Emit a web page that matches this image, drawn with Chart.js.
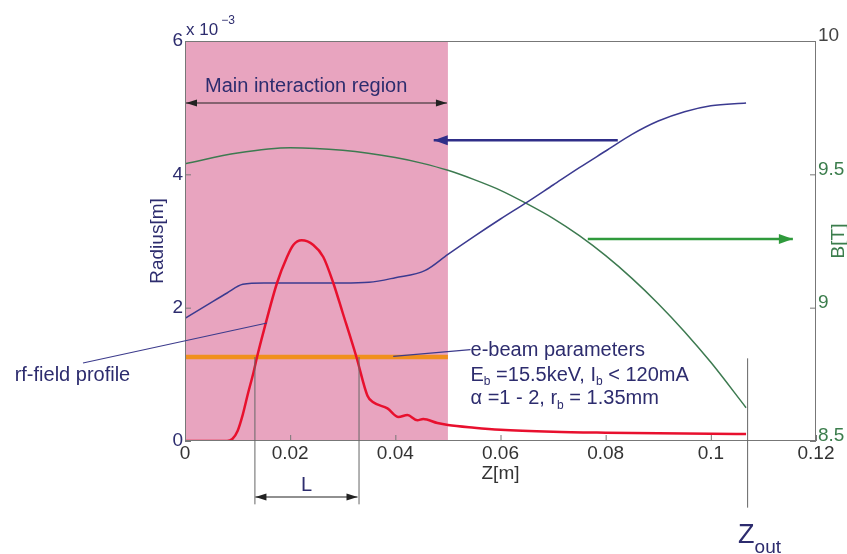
<!DOCTYPE html>
<html>
<head>
<meta charset="utf-8">
<script src="https://cdn.jsdelivr.net/npm/chart.js@4.4.1/dist/chart.umd.min.js"></script>
<style>
html, body { margin: 0; padding: 0; background: #fff; }
</style>
</head>
<body>
<canvas id="fig" width="847" height="554"></canvas>
<script>
// values; radius and rf profile in units of 1e-3 (left axis), B in T (right axis)
const zRadius = [0, 0.004, 0.008, 0.011, 0.015, 0.02, 0.025, 0.03, 0.035, 0.04, 0.0457, 0.05, 0.055, 0.06, 0.065, 0.07, 0.075, 0.08, 0.085, 0.09, 0.095, 0.1, 0.1067];
const radius = [1.84, 2.03, 2.22, 2.35, 2.37, 2.37, 2.37, 2.37, 2.38, 2.45, 2.56, 2.8, 3.07, 3.33, 3.58, 3.84, 4.1, 4.35, 4.6, 4.8, 4.94, 5.03, 5.07];

const zField = [0, 0.01, 0.02, 0.03, 0.04, 0.045, 0.05, 0.055, 0.06, 0.065, 0.07, 0.075, 0.08, 0.085, 0.09, 0.095, 0.1, 0.1067];
const field = [9.54, 9.58, 9.6, 9.59, 9.563, 9.542, 9.515, 9.48, 9.44, 9.39, 9.335, 9.27, 9.195, 9.11, 9.015, 8.91, 8.795, 8.625];

const zRf = [0, 0.008, 0.009, 0.01, 0.011, 0.012, 0.013, 0.0137, 0.015, 0.0175, 0.0194, 0.0206, 0.0222, 0.0244, 0.0263, 0.0282, 0.03, 0.0326, 0.0347, 0.0358, 0.0385, 0.0406, 0.0423, 0.0442, 0.0453, 0.048, 0.05, 0.055, 0.06, 0.07, 0.08, 0.09, 0.1, 0.1067];
const rf = [0, 0, 0.03, 0.15, 0.4, 0.72, 1.02, 1.26, 1.66, 2.37, 2.76, 2.94, 3.01, 2.94, 2.76, 2.37, 1.92, 1.26, 0.68, 0.58, 0.49, 0.36, 0.39, 0.31, 0.33, 0.27, 0.24, 0.2, 0.17, 0.14, 0.125, 0.115, 0.108, 0.105];

const zBeam = [0, 0.05];
const beam = [1.26, 1.26];

const regionZ = [0, 0.05];       // main interaction region
const lMarks = [0.0132, 0.033];  // L
const zOut = 0.1069;

const xTicks = [0, 0.02, 0.04, 0.06, 0.08, 0.1, 0.12];
const yTicks = [0, 2, 4, 6];
const y2Ticks = [8.5, 9, 9.5, 10];

const NAVY = '#2d2c6e';
const GREEN = '#3b7d4c';
const FONT = "'Liberation Sans', Arial, sans-serif";

const pts = (xs, ys) => xs.map((v, i) => ({ x: v, y: ys[i] }));

function arrowHead(ctx, x1, y1, x2, y2, len, wid) {
    const a = Math.atan2(y2 - y1, x2 - x1);
    ctx.beginPath();
    ctx.moveTo(x2, y2);
    ctx.lineTo(x2 - len * Math.cos(a) + wid * Math.sin(a), y2 - len * Math.sin(a) - wid * Math.cos(a));
    ctx.lineTo(x2 - len * Math.cos(a) - wid * Math.sin(a), y2 - len * Math.sin(a) + wid * Math.cos(a));
    ctx.closePath();
    ctx.fill();
}

function arrow(ctx, x1, y1, x2, y2, color, w, len, wid, both) {
    ctx.strokeStyle = color;
    ctx.fillStyle = color;
    ctx.lineWidth = w;
    ctx.beginPath();
    ctx.moveTo(x1, y1);
    ctx.lineTo(x2, y2);
    ctx.stroke();
    arrowHead(ctx, x1, y1, x2, y2, len, wid);
    if (both) arrowHead(ctx, x2, y2, x1, y1, len, wid);
}

function line(ctx, x1, y1, x2, y2, color, w) {
    ctx.strokeStyle = color;
    ctx.lineWidth = w;
    ctx.beginPath();
    ctx.moveTo(x1, y1);
    ctx.lineTo(x2, y2);
    ctx.stroke();
}

// text with subscripts
function rich(ctx, parts, x, y, size) {
    ctx.textAlign = 'left';
    ctx.textBaseline = 'middle';
    let cx = x;
    for (const p of parts) {
        if (p.sub) {
            ctx.font = Math.round(size * 0.6) + 'px ' + FONT;
            ctx.fillText(p.t, cx, y + size * 0.35);
        } else {
            ctx.font = size + 'px ' + FONT;
            ctx.fillText(p.t, cx, y);
        }
        cx += ctx.measureText(p.t).width;
    }
}

const annot = {
    id: 'annot',
    beforeDatasetsDraw(chart) {
        const { ctx, chartArea: a, scales: { x } } = chart;
        ctx.save();
        ctx.fillStyle = '#e8a4bf';
        const x0 = x.getPixelForValue(regionZ[0]);
        const x1 = x.getPixelForValue(regionZ[1]);
        ctx.fillRect(x0, a.top, x1 - x0, a.bottom - a.top);
        ctx.restore();
    },
    afterDatasetsDraw(chart) {
        const { ctx, chartArea: a, scales: { x, y } } = chart;
        const px = v => x.getPixelForValue(v);
        const py = v => y.getPixelForValue(v);
        ctx.save();

        // frame and inward ticks
        ctx.strokeStyle = '#777';
        ctx.lineWidth = 1;
        ctx.strokeRect(a.left + 0.5, a.top + 0.5, a.right - a.left - 1, a.bottom - a.top - 1);
        ctx.beginPath();
        xTicks.forEach(v => { ctx.moveTo(px(v) + 0.5, a.bottom); ctx.lineTo(px(v) + 0.5, a.bottom - 6); });
        yTicks.forEach(v => { ctx.moveTo(a.left, py(v) + 0.5); ctx.lineTo(a.left + 6, py(v) + 0.5); });
        const y2 = chart.scales.y2;
        y2Ticks.forEach(v => { ctx.moveTo(a.right, y2.getPixelForValue(v) + 0.5); ctx.lineTo(a.right - 6, y2.getPixelForValue(v) + 0.5); });
        ctx.stroke();

        // main interaction region
        arrow(ctx, px(regionZ[0]) + 1, py(5.07), px(regionZ[1]) - 1, py(5.07), '#222', 1.2, 11, 3.5, true);
        ctx.fillStyle = NAVY;
        ctx.font = '20px ' + FONT;
        ctx.textAlign = 'left';
        ctx.textBaseline = 'middle';
        ctx.fillText('Main interaction region', px(0.0038), py(5.32));

        // axis indicator arrows
        arrow(ctx, px(0.0823), py(4.51), px(0.0473), py(4.51), '#2f2e88', 2.5, 14, 5, false);
        arrow(ctx, px(0.0766), py(3.03), px(0.1156), py(3.03), '#2f9a3c', 2.5, 14, 5, false);

        // rf-field profile pointer
        line(ctx, px(-0.0194), py(1.17), px(0.0156), py(1.77), '#3c3b8c', 1.2);
        ctx.fillStyle = NAVY;
        ctx.font = '20px ' + FONT;
        ctx.fillText('rf-field profile', px(-0.0324), py(0.99));

        // e-beam parameters
        line(ctx, px(0.0396), py(1.27), px(0.0543), py(1.37), '#3c3b8c', 1.2);
        ctx.fillStyle = NAVY;
        rich(ctx, [{ t: 'e-beam parameters' }], px(0.0543), py(1.36), 20);
        rich(ctx, [{ t: 'E' }, { t: 'b', sub: true }, { t: ' =15.5keV, I' }, { t: 'b', sub: true }, { t: ' < 120mA' }], px(0.0543), py(0.99), 20);
        rich(ctx, [{ t: '\u03B1 =1 - 2, r' }, { t: 'b', sub: true }, { t: ' = 1.35mm' }], px(0.0543), py(0.64), 20);

        // L marks
        lMarks.forEach(v => line(ctx, px(v) + 0.5, py(1.26), px(v) + 0.5, py(-0.95), '#666', 1));
        arrow(ctx, px(lMarks[0]) + 1, py(-0.84), px(lMarks[1]) - 1, py(-0.84), '#222', 1.2, 11, 3.5, true);
        ctx.fillStyle = NAVY;
        ctx.font = '20px ' + FONT;
        ctx.textAlign = 'center';
        ctx.fillText('L', (px(lMarks[0]) + px(lMarks[1])) / 2, py(-0.66));

        // Z_out
        line(ctx, px(zOut) + 0.5, py(1.24), px(zOut) + 0.5, py(-1.0), '#666', 1);
        ctx.fillStyle = NAVY;
        ctx.textAlign = 'left';
        ctx.textBaseline = 'alphabetic';
        ctx.font = '27px ' + FONT;
        ctx.fillText('Z', px(zOut) - 9, 543);
        const zw = ctx.measureText('Z').width;
        ctx.font = '19px ' + FONT;
        ctx.fillText('out', px(zOut) - 9 + zw, 553);

        // exponent
        ctx.font = '17px ' + FONT;
        ctx.fillText('x 10', a.left + 1, a.top - 6);
        const ew = ctx.measureText('x 10').width;
        ctx.font = '12px ' + FONT;
        ctx.fillText('\u22123', a.left + 4 + ew, a.top - 17);

        // axis titles
        ctx.textAlign = 'center';
        ctx.textBaseline = 'middle';
        ctx.font = '19px ' + FONT;
        ctx.fillStyle = '#333';
        ctx.fillText('Z[m]', (a.left + a.right) / 2, a.bottom + 33);
        ctx.save();
        ctx.translate(a.left - 27, (a.top + a.bottom) / 2);
        ctx.rotate(-Math.PI / 2);
        ctx.fillStyle = NAVY;
        ctx.fillText('Radius[m]', 0, 0);
        ctx.restore();
        ctx.save();
        ctx.translate(a.right + 23, (a.top + a.bottom) / 2);
        ctx.rotate(-Math.PI / 2);
        ctx.fillStyle = GREEN;
        ctx.fillText('B[T]', 0, 0);
        ctx.restore();

        ctx.restore();
    }
};

const ctx = document.getElementById('fig').getContext('2d');
const chart = new Chart(ctx, {
    type: 'line',
    data: {
        datasets: [
            { label: 'rf-field', data: pts(zRf, rf), borderColor: '#e8102e', borderWidth: 2.5, yAxisID: 'y' },
            { label: 'e-beam', data: pts(zBeam, beam), borderColor: '#f0901e', borderWidth: 4.5, yAxisID: 'y', cubicInterpolationMode: 'default', tension: 0 },
            { label: 'Radius', data: pts(zRadius, radius), borderColor: '#3b3a90', borderWidth: 1.5, yAxisID: 'y' },
            { label: 'B', data: pts(zField, field), borderColor: '#3d7a50', borderWidth: 1.5, yAxisID: 'y2' },
        ],
    },
    options: {
        responsive: false,
        animation: false,
        devicePixelRatio: 1,
        elements: { point: { radius: 0 }, line: { cubicInterpolationMode: 'monotone' } },
        layout: { padding: { top: 41, left: 0, right: 0, bottom: 0 } },
        plugins: { legend: { display: false }, tooltip: { enabled: false } },
        scales: {
            x: {
                type: 'linear',
                min: 0,
                max: 0.12,
                afterFit: s => { s.height = 113; },
                afterBuildTicks: s => { s.ticks = xTicks.map(v => ({ value: v })); },
                grid: { display: false, drawTicks: false, tickLength: 0 },
                border: { display: false },
                ticks: {
                    padding: 1,
                    color: '#333',
                    font: { family: FONT, size: 19 },
                    maxRotation: 0,
                    callback: v => String(Number(v.toFixed(2))),
                },
            },
            y: {
                position: 'left',
                min: 0,
                max: 6,
                afterFit: s => { s.width = 185; },
                afterBuildTicks: s => { s.ticks = yTicks.map(v => ({ value: v })); },
                grid: { display: false, drawTicks: false, tickLength: 0 },
                border: { display: false },
                ticks: { padding: 2, color: NAVY, font: { family: FONT, size: 19 } },
            },
            y2: {
                position: 'right',
                min: 8.5,
                max: 10,
                afterFit: s => { s.width = 31; },
                afterBuildTicks: s => { s.ticks = y2Ticks.map(v => ({ value: v })); },
                grid: { display: false, drawTicks: false, tickLength: 0 },
                border: { display: false },
                ticks: {
                    padding: 2,
                    labelOffset: -5,
                    color: c => (c.tick && c.tick.value === 10 ? '#444' : GREEN),
                    font: { family: FONT, size: 19 },
                    callback: v => String(v),
                },
            },
        },
    },
    plugins: [annot],
});
</script>
</body>
</html>
